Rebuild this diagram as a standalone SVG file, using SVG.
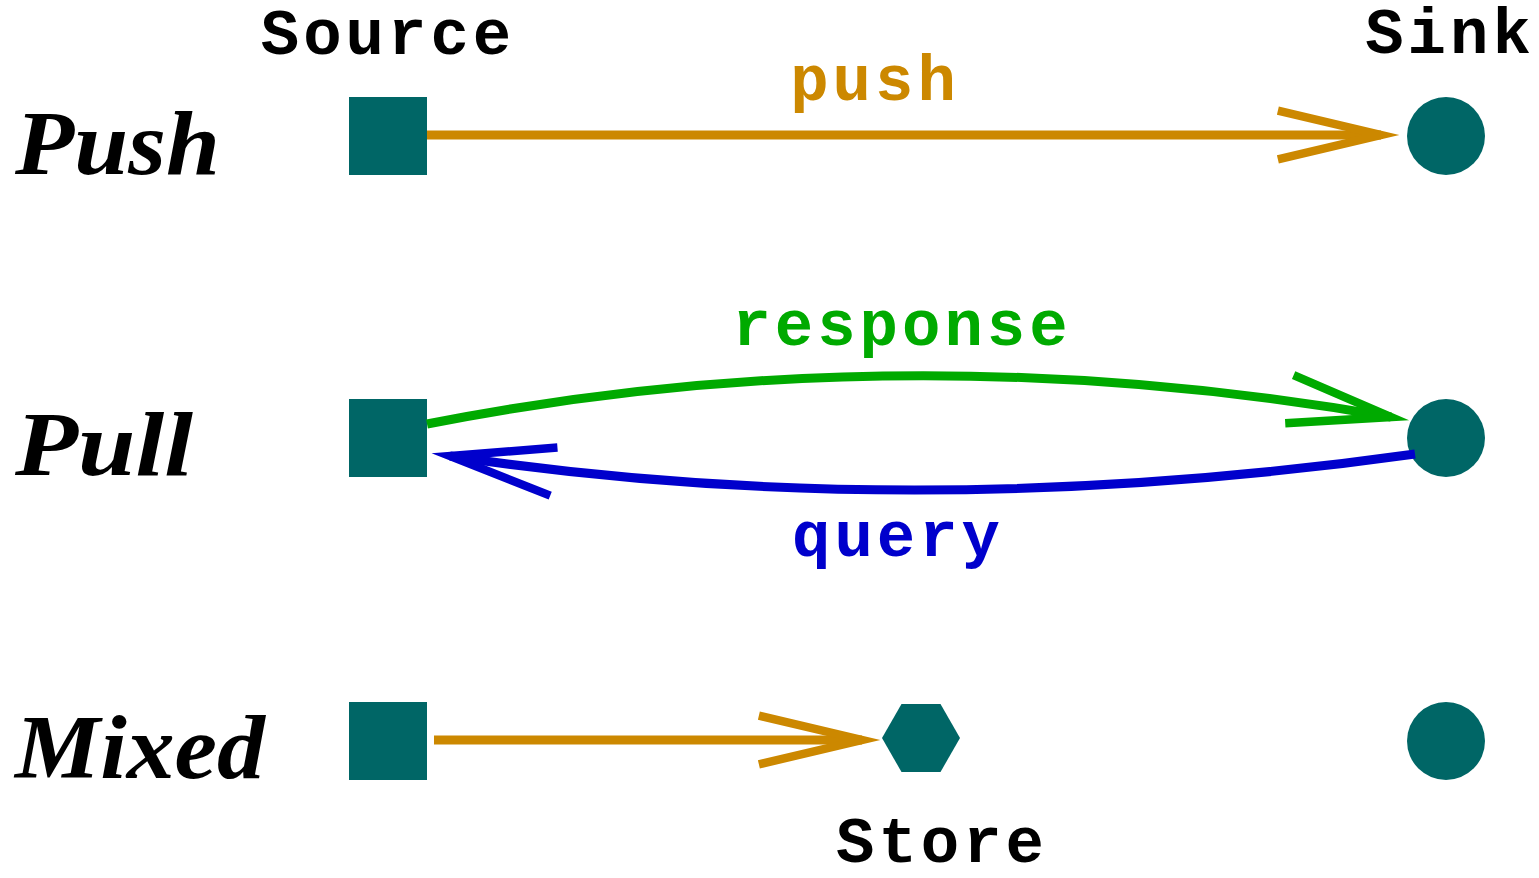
<svg xmlns="http://www.w3.org/2000/svg" width="1539" height="878" viewBox="0 0 1539 878">
  <style>
    .node { fill: #006666; }
    .mono { font-family: "Liberation Mono", "Courier New", monospace; font-weight: bold; font-size: 64px; letter-spacing: 4px; text-anchor: middle; }
    .row { font-family: "Liberation Serif", "Times New Roman", serif; font-weight: bold; font-style: italic; font-size: 90px; }
    .edge { fill: none; stroke-width: 9; }
    .head { fill: none; stroke-width: 9; stroke-miterlimit: 20; stroke-linejoin: miter; }
  </style>
  <defs>
    <marker id="arrow-orange" markerUnits="userSpaceOnUse" markerWidth="150" markerHeight="80" viewBox="-140 -40 160 80" refX="0" refY="0" orient="auto" overflow="visible">
      <path class="head" stroke="#cc8800" d="M-110,-26 L0,0 L-110,26"/>
    </marker>
    <marker id="arrow-green" markerUnits="userSpaceOnUse" markerWidth="150" markerHeight="80" viewBox="-140 -40 160 80" refX="0" refY="0" orient="auto" overflow="visible">
      <path class="head" stroke="#00aa00" d="M-110,-26 L0,0 L-110,26"/>
    </marker>
    <marker id="arrow-blue" markerUnits="userSpaceOnUse" markerWidth="150" markerHeight="80" viewBox="-140 -40 160 80" refX="0" refY="0" orient="auto" overflow="visible">
      <path class="head" stroke="#0000cc" d="M-112,-26 L0,0 L-112,26"/>
    </marker>
  </defs>

  <rect width="1539" height="878" fill="#ffffff"/>

  <!-- column headings -->
  <text class="mono" x="388" y="54">Source</text>
  <text class="mono" x="1450" y="53">Sink</text>

  <!-- row labels -->
  <text class="row" x="15" y="174" textLength="205" lengthAdjust="spacingAndGlyphs">Push</text>
  <text class="row" x="15" y="475" textLength="178" lengthAdjust="spacingAndGlyphs">Pull</text>
  <text class="row" x="15" y="778" textLength="250" lengthAdjust="spacingAndGlyphs">Mixed</text>

  <!-- nodes -->
  <g id="push-source"><rect class="node" x="349" y="97" width="78" height="78"/></g>
  <g id="push-sink"><circle class="node" cx="1446" cy="136" r="39"/></g>
  <g id="pull-source"><rect class="node" x="349" y="399" width="78" height="78"/></g>
  <g id="pull-sink"><circle class="node" cx="1446" cy="438" r="39"/></g>
  <g id="mixed-source"><rect class="node" x="349" y="702" width="78" height="78"/></g>
  <g id="mixed-store">
    <polygon class="node" points="882,738 901.5,704 940.5,704 960,738 940.5,772 901.5,772"/>
    <text class="mono" x="942" y="862">Store</text>
  </g>
  <g id="mixed-sink"><circle class="node" cx="1446" cy="741" r="39"/></g>

  <!-- connectors -->
  <g id="connectors">
    <path class="edge" stroke="#cc8800" d="M427,135 L1381,135" marker-end="url(#arrow-orange)"/>
    <text class="mono" x="875" y="100" fill="#cc8800">push</text>

    <path class="edge" stroke="#00aa00" d="M427,424 Q900,331 1391,417" marker-end="url(#arrow-green)"/>
    <text class="mono" x="902" y="345" fill="#00aa00">response</text>

    <path class="edge" stroke="#0000cc" d="M1415,454 Q910,525 450,456" marker-end="url(#arrow-blue)"/>
    <text class="mono" x="898" y="556" fill="#0000cc">query</text>

    <path class="edge" stroke="#cc8800" d="M434,740 L862,740" marker-end="url(#arrow-orange)"/>
  </g>
</svg>
